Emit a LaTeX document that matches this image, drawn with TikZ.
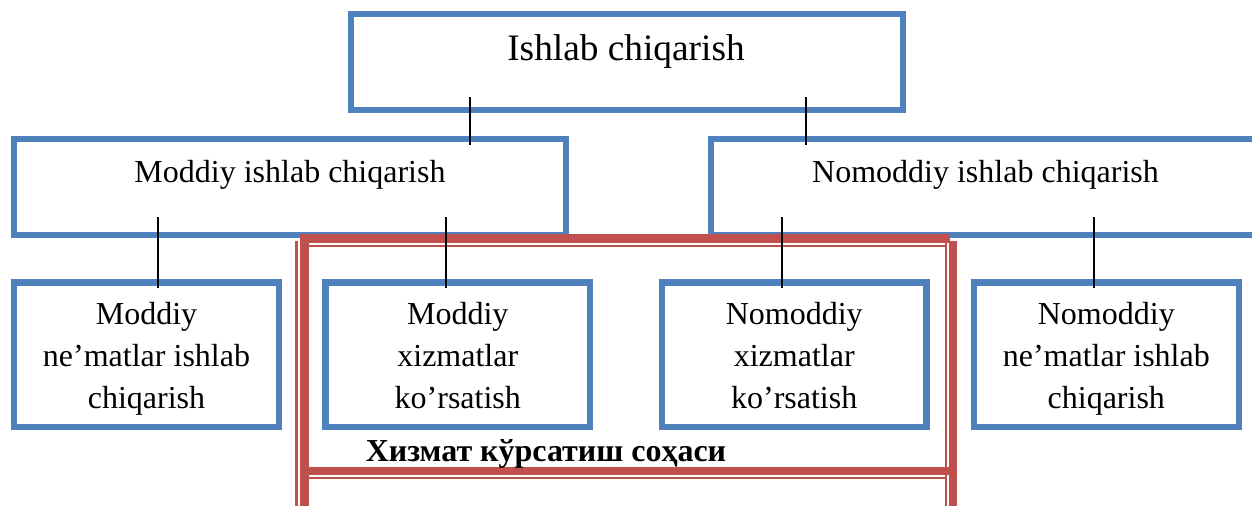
\documentclass[tikz,border=0pt]{standalone}
\usepackage{fontspec}
\setmainfont{Liberation Serif}
\definecolor{boxblue}{HTML}{4F81BD}
\definecolor{framered}{HTML}{C0504D}
\begin{document}
\begin{tikzpicture}[x=0.75pt,y=-0.75pt,
  box/.style={draw=boxblue, line width=4.6pt, rectangle, inner sep=0pt, outer sep=0pt},
  lowbox/.style={box, minimum width=198.4pt, minimum height=108.4pt},
  toptxt/.style={font=\fontsize{28}{34}\selectfont, inner sep=0pt},
  midtxt/.style={font=\fontsize{24}{29}\selectfont, inner sep=0pt},
  lowtxt/.style={font=\fontsize{24}{31.3}\selectfont, align=center, inner sep=0pt},
  captxt/.style={font=\fontsize{24}{29}\selectfont\bfseries, inner sep=0pt},
  conn/.style={draw=black, line width=1.5pt},
  redthick/.style={draw=framered, line width=6.2pt},
  redthin/.style={draw=framered, line width=1.7pt}]
\useasboundingbox (0,0) rectangle (1252,506);
\clip (0,0) rectangle (1252,506);
% boxes
\node[box, minimum width=414pt, minimum height=72.2pt] (top) at (627,61.9) {};
\node[box, minimum width=414pt, minimum height=72pt] (mod) at (290,186.7) {};
\node[box, minimum width=411.75pt, minimum height=72.2pt] (nom) at (985.5,186.9) {};
\node[lowbox] (b1) at (146.5,354.75) {};
\node[lowbox] (b2) at (457.8,354.75) {};
\node[lowbox] (b3) at (794.2,354.75) {};
\node[lowbox] (b4) at (1106.3,354.75) {};
% texts
\node[toptxt, anchor=base] (topt) at (626,61) {Ishlab chiqarish};
\node[midtxt, anchor=base] (modt) at (290,182) {Moddiy ishlab chiqarish};
\node[midtxt, anchor=base] (nomt) at (985.5,182) {Nomoddiy ishlab chiqarish};
\node[lowtxt] (b1t) at (146.5,358.2) {\strut Moddiy\\ne’matlar ishlab\\chiqarish\strut};
\node[lowtxt] (b2t) at (457.8,358.2) {\strut Moddiy\\xizmatlar\\ko’rsatish\strut};
\node[lowtxt] (b3t) at (794.2,358.2) {\strut Nomoddiy\\xizmatlar\\ko’rsatish\strut};
\node[lowtxt] (b4t) at (1106.3,358.2) {\strut Nomoddiy\\ne’matlar ishlab\\chiqarish\strut};
% red frame
\draw[redthick] (301,238.5) -- (950,238.5);
\draw[redthin] (308,246.2) -- (946,246.2);
\draw[redthick] (301,471) -- (950,471);
\draw[redthin] (308,478) -- (946,478);
\draw[redthick] (304.5,234.3) -- (304.5,512);
\draw[redthin] (296.5,241) -- (296.5,512);
\draw[redthick] (953,241) -- (953,512);
\draw[redthin] (946,238) -- (946,512);
% caption
\node[captxt, anchor=base] (cap) at (546,461.5) {Хизмат кўрсатиш соҳаси};
% connectors
\draw[conn] ([shift={(-157,-13)}]top.south) -- ([shift={(180,6.3)}]mod.north);
\draw[conn] ([shift={(179,-13)}]top.south) -- ([shift={(-179.5,6.3)}]nom.north);
\draw[conn] ([shift={(-132,-17.7)}]mod.south) -- ([shift={(11.5,5.5)}]b1.north);
\draw[conn] ([shift={(156,-17.7)}]mod.south) -- ([shift={(-11.8,5.5)}]b2.north);
\draw[conn] ([shift={(-203.5,-18)}]nom.south) -- ([shift={(-12.2,5.5)}]b3.north);
\draw[conn] ([shift={(108.5,-18)}]nom.south) -- ([shift={(-12.3,5.5)}]b4.north);
\end{tikzpicture}
\end{document}
